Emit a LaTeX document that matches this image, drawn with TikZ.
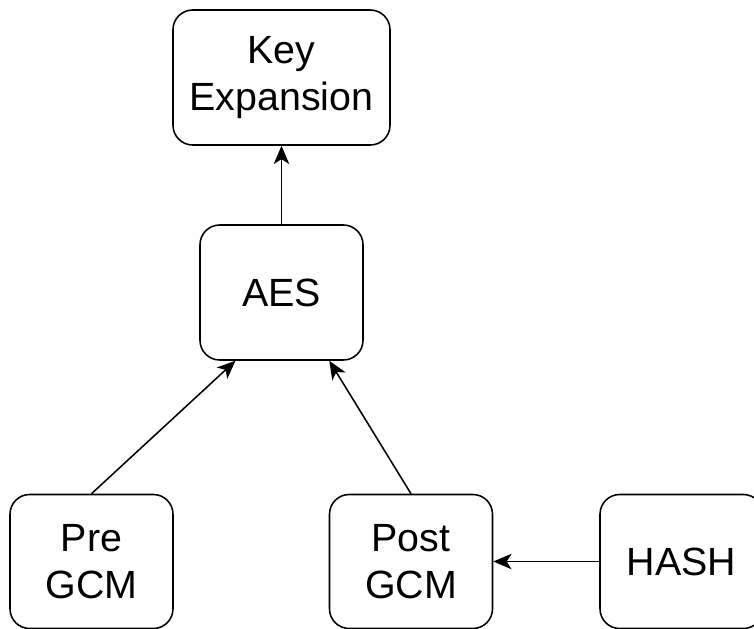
\documentclass[tikz,border=0pt]{standalone}
\usepackage{fontspec}
\setmainfont{Liberation Sans}
\usetikzlibrary{arrows.meta}
\begin{document}
\begin{tikzpicture}[x=0.025cm,y=-0.025cm,
  block/.style={draw, line width=1.1pt, rounded corners=14pt, align=center,
    minimum width=163*0.025cm, minimum height=134*0.025cm, inner sep=0pt,
    font=\fontsize{28}{33}\selectfont},
  link/.style={line width=1.1pt, -{Stealth[length=13pt,width=11pt,inset=3.5pt]}}]
\useasboundingbox (0,0) rectangle (754,629);
\node[block, minimum width=217*0.025cm, minimum height=135*0.025cm] (keyexp) at (281.5,77.5) {Key\\Expansion};
\node[block, minimum height=135*0.025cm] (aes) at (281.5,292.5) {AES};
\node[block] (pregcm) at (91.5,561.5) {Pre\\GCM};
\node[block] (postgcm) at (411,561.5) {Post\\GCM};
\node[block] (hash) at (681.5,561.5) {HASH};
\draw[link] (aes) -- (keyexp);
\draw[link] (pregcm.north) -- (aes.236.6);
\draw[link] (postgcm.north) -- (aes.305.7);
\draw[link] (hash) -- (postgcm);
\end{tikzpicture}
\end{document}
